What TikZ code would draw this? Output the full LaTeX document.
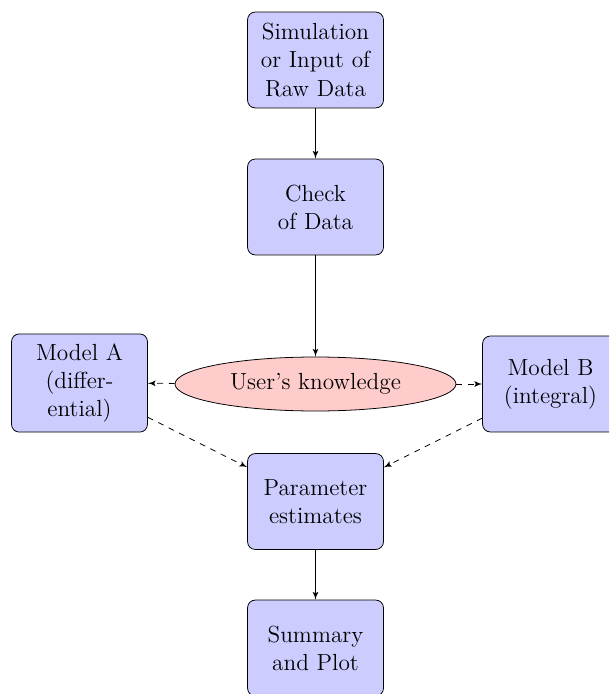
\documentclass[tikz,border=0pt]{standalone}
\usetikzlibrary{shapes.geometric,arrows}
\begin{document}
\begin{tikzpicture}[x=0.515pt,y=-0.515pt]
\tikzset{
  block/.style={rectangle, draw, fill=blue!20, text width=60pt, align=center,
    rounded corners, minimum height=49.4pt, inner sep=5pt,
    font=\fontsize{12}{14.5}\selectfont},
  cloud/.style={ellipse, draw, fill=red!20, minimum width=144.7pt,
    minimum height=27.8pt, inner sep=0pt, font=\fontsize{12}{14.5}\selectfont},
  line/.style={draw, -latex'},
  dline/.style={draw, dashed, -latex'}
}
\useasboundingbox (0,0) rectangle (609,694);
\clip (0,0) rectangle (609,694);
\node[block] (init) at (315.5,60) {Simulation or Input of Raw Data};
\node[block] (check) at (315.5,207) {Check of Data};
\node[cloud] (user) at (315.5,384) {User's knowledge};
\node[block] (modela) at (79.5,383) {Model A (differential)};
\node[block] (modelb) at (550.5,384) {Model B (integral)};
\node[block] (param) at (315.5,501.5) {Parameter estimates};
\node[block] (summary) at (315.5,648) {Summary and Plot};
\path[line] (init) -- (check);
\path[line] (check) -- (user);
\path[dline] (user) -- (modela);
\path[dline] (user) -- (modelb);
\path[dline] (modela) -- (param);
\path[dline] (modelb) -- (param);
\path[line] (param) -- (summary);
\end{tikzpicture}
\end{document}
